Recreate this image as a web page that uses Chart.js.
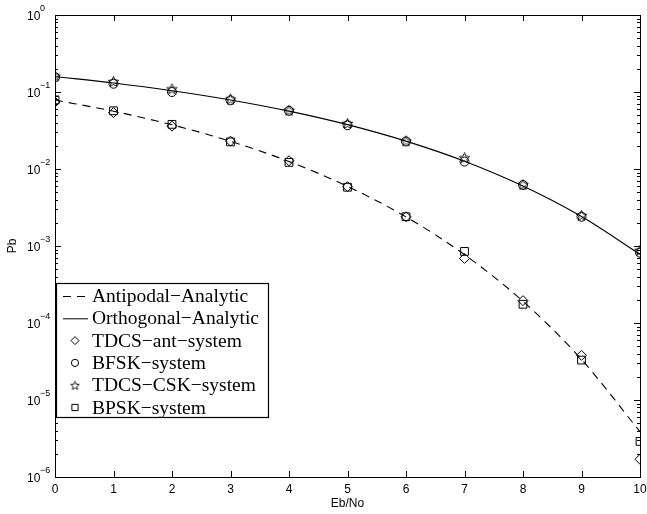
<!DOCTYPE html>
<html>
<head>
<meta charset="utf-8">
<script src="https://cdn.jsdelivr.net/npm/chart.js@4"></script>
<style>
  html, body { margin: 0; padding: 0; background: #fff; }
  #myChart { display: block; }
</style>
</head>
<body>
<canvas id="myChart" width="647" height="514"></canvas>
<script>
const ebno = [0, 1, 2, 3, 4, 5, 6, 7, 8, 9, 10]

const antipodal = [0.0786, 0.0563, 0.0375, 0.0229, 0.0125, 0.00595, 0.00239, 0.000773, 0.000191, 3.36e-5, 3.87e-6]
const orthogonal = [0.1587, 0.131, 0.104, 0.0789, 0.0565, 0.0377, 0.0230, 0.0126, 0.0060, 0.00241, 0.00078]
const tdcsAnt = [0.074, 0.054, 0.036, 0.023, 0.0128, 0.0059, 0.0024, 0.00069, 0.000195, 3.8e-5, 1.7e-6]
const bfsk = [0.155, 0.128, 0.100, 0.078, 0.057, 0.037, 0.0228, 0.0125, 0.0062, 0.0024, 0.00082]
const tdcsCsk = [0.162, 0.137, 0.110, 0.081, 0.058, 0.039, 0.0232, 0.0140, 0.0063, 0.0025, 0.00088]
const bpsk = [0.079, 0.057, 0.038, 0.0225, 0.0122, 0.0058, 0.0024, 0.00085, 0.000175, 3.3e-5, 2.9e-6]

const xTicks = [0, 1, 2, 3, 4, 5, 6, 7, 8, 9, 10]
const yExponents = [0, -1, -2, -3, -4, -5, -6]

const labels = [
  'Antipodal\u2212Analytic',
  'Orthogonal\u2212Analytic',
  'TDCS\u2212ant\u2212system',
  'BFSK\u2212system',
  'TDCS\u2212CSK\u2212system',
  'BPSK\u2212system',
]

// five point star marker (Chart.js 'star' is an asterisk)
function makeStar(r) {
  const c = document.createElement('canvas')
  const s = Math.ceil(r * 2 + 3) | 1
  c.width = s
  c.height = s
  const g = c.getContext('2d')
  g.strokeStyle = '#000'
  g.lineWidth = 0.9
  g.beginPath()
  for (let i = 0; i < 10; i++) {
    const rad = i % 2 === 0 ? r : r * 0.45
    const a = -Math.PI / 2 + i * Math.PI / 5
    const px = s / 2 + rad * Math.cos(a)
    const py = s / 2 + 0.5 + rad * Math.sin(a)
    if (i === 0) g.moveTo(px, py)
    else g.lineTo(px, py)
  }
  g.closePath()
  g.stroke()
  return c
}
const starImg = makeStar(5.5)
const starSmall = makeStar(4.5)

const toXY = arr => arr.map((v, i) => ({ x: ebno[i], y: v }))

const lineDs = (label, values, dash) => ({
  label: label,
  data: toXY(values),
  borderColor: '#000',
  borderWidth: 1.1,
  borderDash: dash,
  pointRadius: 0,
  fill: false,
  cubicInterpolationMode: 'monotone',
})

const markDs = (label, values, style, radius) => ({
  label: label,
  data: toXY(values),
  showLine: false,
  borderColor: '#000',
  backgroundColor: 'rgba(0,0,0,0)',
  borderWidth: 1,
  pointStyle: style,
  pointRadius: radius,
})

const data = {
  datasets: [
    lineDs(labels[0], antipodal, [8, 6]),
    lineDs(labels[1], orthogonal, []),
    markDs(labels[2], tdcsAnt, 'rectRot', 5),
    markDs(labels[3], bfsk, 'circle', 4.5),
    markDs(labels[4], tdcsCsk, starImg, 6),
    markDs(labels[5], bpsk, 'rect', 5.5),
  ],
}

const axesPlugin = {
  id: 'matlabAxes',
  afterDraw(chart) {
    const ctx = chart.ctx
    const a = chart.chartArea
    const xs = chart.scales.x
    const ys = chart.scales.y
    ctx.save()
    ctx.strokeStyle = '#000'
    ctx.fillStyle = '#000'
    ctx.lineWidth = 1
    // frame
    ctx.strokeRect(a.left + 0.5, a.top + 0.5, a.right - a.left, a.bottom - a.top)
    ctx.beginPath()
    // x ticks (top and bottom, inward)
    xTicks.forEach(t => {
      const px = Math.round(xs.getPixelForValue(t)) + 0.5
      ctx.moveTo(px, a.bottom)
      ctx.lineTo(px, a.bottom - 6)
      ctx.moveTo(px, a.top)
      ctx.lineTo(px, a.top + 6)
    })
    // y ticks, major and minor
    yExponents.forEach(e => {
      for (let m = 1; m <= 9; m++) {
        const v = m * Math.pow(10, e)
        if (v > 1.0000001) continue
        const py = Math.round(ys.getPixelForValue(v)) + 0.5
        const len = m === 1 ? 6 : 3
        ctx.moveTo(a.left, py)
        ctx.lineTo(a.left + len, py)
        ctx.moveTo(a.right, py)
        ctx.lineTo(a.right - len, py)
      }
    })
    ctx.stroke()
    // x tick labels
    ctx.font = '12px "Liberation Sans", Arial, sans-serif'
    ctx.textAlign = 'center'
    ctx.textBaseline = 'middle'
    xTicks.forEach(t => {
      ctx.fillText(String(t), xs.getPixelForValue(t), 490)
    })
    ctx.fillText('Eb/No', (a.left + a.right) / 2, 504)
    // y tick labels 10^e
    yExponents.forEach(e => {
      const py = ys.getPixelForValue(Math.pow(10, e))
      ctx.font = '12px "Liberation Sans", Arial, sans-serif'
      ctx.textAlign = 'left'
      ctx.textBaseline = 'middle'
      ctx.fillText('10', 27, py + 2)
      ctx.font = '9px "Liberation Sans", Arial, sans-serif'
      ctx.fillText(e === 0 ? '0' : '\u2212' + (-e), 40, py - 6)
    })
    // y title
    ctx.save()
    ctx.translate(13, (a.top + a.bottom) / 2)
    ctx.rotate(-Math.PI / 2)
    ctx.font = '12px "Liberation Sans", Arial, sans-serif'
    ctx.textAlign = 'center'
    ctx.textBaseline = 'middle'
    ctx.fillText('Pb', 0, 0)
    ctx.restore()

    // legend box
    const bx = 56, by = 283, bw = 212, bh = 134
    ctx.fillStyle = '#fff'
    ctx.fillRect(bx, by, bw, bh)
    ctx.lineWidth = 1.2
    ctx.strokeRect(bx + 0.5, by + 0.5, bw, bh)
    ctx.lineWidth = 1
    ctx.textAlign = 'left'
    ctx.textBaseline = 'middle'
    chart.data.datasets.forEach((ds, i) => {
      const ry = 296 + i * 22.3
      ctx.strokeStyle = '#000'
      if (i < 2) {
        ctx.beginPath()
        ctx.setLineDash(ds.borderDash)
        ctx.moveTo(63, ry + 0.5)
        ctx.lineTo(88, ry + 0.5)
        ctx.stroke()
        ctx.setLineDash([])
      } else {
        ctx.fillStyle = 'rgba(0,0,0,0)'
        Chart.helpers.drawPoint(ctx, {
          pointStyle: ds.pointStyle === starImg ? starSmall : ds.pointStyle,
          radius: ds.pointRadius * 0.8,
          rotation: 0,
          borderWidth: 1,
        }, 75, ry)
      }
      ctx.fillStyle = '#000'
      ctx.font = '19.5px "Liberation Serif", "Times New Roman", serif'
      ctx.fillText(ds.label, 92, ry + 1)
    })
    ctx.restore()
  },
}

const ctx = document.getElementById('myChart').getContext('2d')
const myChart = new Chart(ctx, {
  type: 'line',
  data: data,
  plugins: [axesPlugin],
  options: {
    responsive: false,
    animation: false,
    layout: {
      padding: { left: 55, right: 4, top: 15, bottom: 37 },
    },
    plugins: {
      legend: { display: false },
      tooltip: { enabled: false },
    },
    scales: {
      x: {
        type: 'linear',
        min: 0,
        max: 10,
        display: false,
      },
      y: {
        type: 'logarithmic',
        min: 1e-6,
        max: 1,
        display: false,
      },
    },
  },
})
</script>
</body>
</html>
